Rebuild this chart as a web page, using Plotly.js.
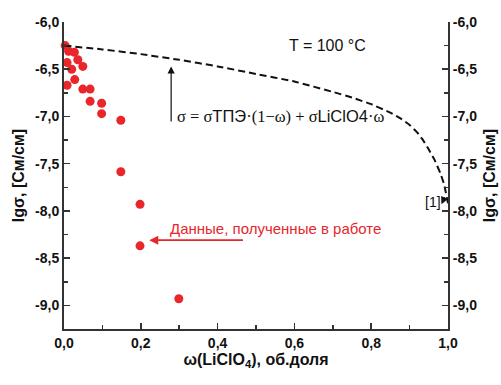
<!DOCTYPE html>
<html>
<head>
<meta charset="utf-8">
<script src="https://cdn.plot.ly/plotly-3.0.1.min.js"></script>
<style>
  html, body { margin: 0; padding: 0; background: #fff; }
  #chart { width: 501px; height: 385px; }
</style>
</head>
<body>
<div id="chart"></div>
<script>
// Measured conductivity of the composite at T = 100 °C
const omegaMeasured = [0.003, 0.012, 0.027, 0.036, 0.008, 0.049, 0.020, 0.028, 0.008, 0.049, 0.068, 0.068, 0.098, 0.098, 0.148, 0.148, 0.198, 0.198, 0.299];
const lgSigmaMeasured = [-6.25, -6.31, -6.32, -6.40, -6.43, -6.47, -6.50, -6.61, -6.67, -6.71, -6.71, -6.84, -6.86, -6.97, -7.04, -7.585, -7.93, -8.37, -8.93];

// Additive mixing estimate, σ = σТПЭ·(1−ω) + σLiClO4·ω
const omegaModel = [0.0, 0.1, 0.2, 0.3, 0.4, 0.5, 0.6, 0.7, 0.75, 0.8, 0.85, 0.88, 0.9, 0.92, 0.935, 0.95, 0.965, 0.98, 0.99, 1.0];
const lgSigmaModel = [-6.25, -6.29, -6.34, -6.40, -6.47, -6.55, -6.63, -6.74, -6.80, -6.87, -6.96, -7.03, -7.09, -7.17, -7.25, -7.35, -7.46, -7.60, -7.72, -7.92];

// Axis ticks
const xTickVals = [0, 0.2, 0.4, 0.6, 0.8, 1.0];
const xTickText = ['0,0', '0,2', '0,4', '0,6', '0,8', '1,0'];
const yTickVals = [-6.0, -6.5, -7.0, -7.5, -8.0, -8.5, -9.0];
const yTickText = ['-6,0', '-6,5', '-7,0', '-7,5', '-8,0', '-8,5', '-9,0'];

const RED = '#e8262b';
const AXIS = '#333333';
const SANS = 'Liberation Sans, Arial, sans-serif';

const traces = [
  {
    x: omegaModel, y: lgSigmaModel,
    xaxis: 'x', yaxis: 'y2',
    type: 'scatter', mode: 'lines',
    line: { color: '#111', width: 2, dash: '7px,4px', shape: 'spline', smoothing: 0.3 },
    hoverinfo: 'skip', showlegend: false
  },
  {
    x: omegaMeasured, y: lgSigmaMeasured,
    type: 'scatter', mode: 'markers',
    marker: { color: RED, size: 9, line: { width: 0 } },
    cliponaxis: false, showlegend: false
  }
];

const tickFont = { family: SANS, size: 14, color: '#111', weight: 'bold' };
const titleFont = { family: SANS, size: 16, color: '#111', weight: 'bold' };

const yCommon = {
  range: [-9.25, -6.0],
  tickmode: 'array', tickvals: yTickVals, ticktext: yTickText,
  ticks: 'inside', ticklen: 6, tickwidth: 1.5, tickcolor: AXIS,
  minor: { tickmode: 'linear', tick0: -6.0, dtick: 0.25, ticks: 'inside', ticklen: 4, tickwidth: 1.5, tickcolor: AXIS },
  showline: true, linecolor: AXIS, linewidth: 2,
  showgrid: false, zeroline: false,
  tickfont: tickFont,
  fixedrange: true
};

const SERIF_SPAN = '<span style="font-family:Liberation Serif">';

const layout = {
  width: 501, height: 385,
  margin: { l: 64, r: 53, t: 22, b: 56 },
  paper_bgcolor: '#fff', plot_bgcolor: '#fff',
  separators: ',.',
  showlegend: false,
  xaxis: {
    range: [0, 1],
    tickmode: 'array', tickvals: xTickVals, ticktext: xTickText,
    ticks: 'inside', ticklen: 6, tickwidth: 1.5, tickcolor: AXIS,
    minor: { tickmode: 'linear', tick0: 0, dtick: 0.1, ticks: 'inside', ticklen: 4, tickwidth: 1.5, tickcolor: AXIS },
    showline: true, linecolor: AXIS, linewidth: 2,
    showgrid: false, zeroline: false,
    tickfont: tickFont,
    title: { text: 'ω(LiClO<sub>4</sub>), об.доля', font: titleFont, standoff: 2 },
    fixedrange: true
  },
  yaxis: Object.assign({}, yCommon, {
    side: 'left',
    title: { text: 'lgσ, [См/см]', font: titleFont, standoff: 6 }
  }),
  yaxis2: Object.assign({}, yCommon, {
    side: 'right', overlaying: 'y', anchor: 'x', matches: 'y',
    title: { text: 'lgσ, [См/см]', font: titleFont, standoff: 8 }
  }),
  annotations: [
    {
      x: 0.58, y: -6.25, xref: 'x', yref: 'y',
      text: 'T = 100 °C', showarrow: false,
      xanchor: 'left', yanchor: 'middle',
      font: { family: SANS, size: 16, color: '#111' }
    },
    {
      // mixing rule: serif symbols, sans-serif component names
      x: 0.288, y: -7.0, xref: 'x', yref: 'y',
      text: SERIF_SPAN + 'σ = σ</span>ТПЭ' + SERIF_SPAN + '·(1−ω) + σ</span>LiClO4' + SERIF_SPAN + '·ω</span>',
      showarrow: false,
      xanchor: 'left', yanchor: 'middle',
      font: { family: SANS, size: 16.5, color: '#111' }
    },
    {
      // pointer from the formula up to the dashed curve
      x: 0.279, y: -6.47, xref: 'x', yref: 'y',
      ax: 0.279, ay: -7.07, axref: 'x', ayref: 'y',
      text: '', showarrow: true,
      arrowhead: 2, arrowsize: 1.2, arrowwidth: 1.2, arrowcolor: '#111'
    },
    {
      x: 0.961, y: -7.906, xref: 'x', yref: 'y',
      text: '[1]', showarrow: false,
      xanchor: 'center', yanchor: 'middle',
      font: { family: SANS, size: 14, color: '#111' }
    },
    {
      x: 0.983, y: -7.93, xref: 'x', yref: 'y',
      ax: 0.993, ay: -7.84, axref: 'x', ayref: 'y',
      text: '', showarrow: true,
      arrowhead: 2, arrowsize: 1, arrowwidth: 1.5, arrowcolor: '#111'
    },
    {
      x: 0.27, y: -8.19, xref: 'x', yref: 'y',
      text: 'Данные, полученные в работе', showarrow: false,
      xanchor: 'left', yanchor: 'middle',
      font: { family: SANS, size: 15, color: RED }
    },
    {
      // pointer from the caption to the measured points
      x: 0.222, y: -8.31, xref: 'x', yref: 'y',
      ax: 0.47, ay: -8.31, axref: 'x', ayref: 'y',
      text: '', showarrow: true,
      arrowhead: 2, arrowsize: 1, arrowwidth: 1.8, arrowcolor: RED
    }
  ]
};

Plotly.newPlot('chart', traces, layout, { displayModeBar: false, staticPlot: true });
</script>
</body>
</html>
